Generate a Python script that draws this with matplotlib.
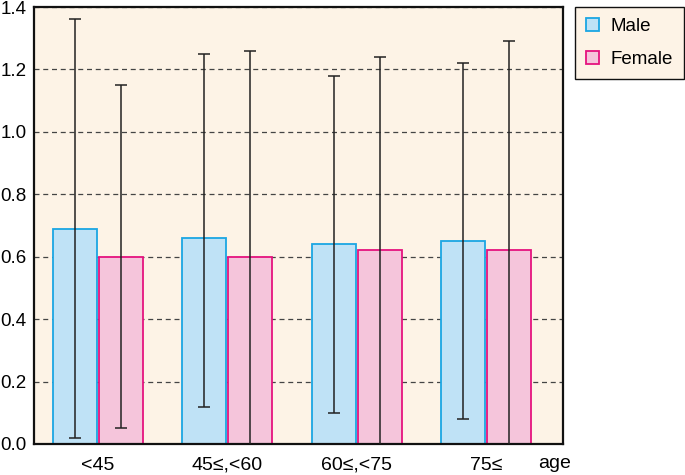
import matplotlib
matplotlib.use("Agg")
import matplotlib.pyplot as plt
import numpy as np

plt.rcParams['font.family'] = ['Liberation Sans', 'DejaVu Sans']

categories = ["<45", "45≤,<60", "60≤,<75", "75≤"]
male_mean = [0.69, 0.66, 0.64, 0.65]
male_low = [0.02, 0.12, 0.10, 0.08]
male_high = [1.36, 1.25, 1.18, 1.22]
female_mean = [0.60, 0.60, 0.62, 0.62]
female_low = [0.05, -0.06, -0.02, -0.05]
female_high = [1.15, 1.26, 1.24, 1.29]
y_ticks = [0.0, 0.2, 0.4, 0.6, 0.8, 1.0, 1.2, 1.4]

bg = "#fdf3e6"
male_fill, male_edge = "#bfe2f6", "#1ba6e3"
female_fill, female_edge = "#f5c5db", "#e5137e"
fs = 13.5

fig = plt.figure(figsize=(6.85, 4.75), dpi=100)
ax = fig.add_axes([34/685, 1-444/475, (563-34)/685, (444-7)/475])
ax.set_facecolor(bg)

x = np.arange(len(categories))
w = 0.34
off = 0.177
mm = np.array(male_mean); fm = np.array(female_mean)
ax.bar(x - off, mm, w, color=male_fill, edgecolor=male_edge, linewidth=1.3, label="Male", zorder=2)
ax.bar(x + off, fm, w, color=female_fill, edgecolor=female_edge, linewidth=1.3, label="Female", zorder=2)
ax.errorbar(x - off, mm, yerr=[mm - np.array(male_low), np.array(male_high) - mm],
            fmt='none', ecolor='#222222', elinewidth=1.1, capsize=4, capthick=1.1, zorder=3)
ax.errorbar(x + off, fm, yerr=[fm - np.array(female_low), np.array(female_high) - fm],
            fmt='none', ecolor='#222222', elinewidth=1.1, capsize=4, capthick=1.1, zorder=3)

ax.set_ylim(0, 1.4)
ax.set_xlim(-0.495, 3.595)
ax.set_yticks(y_ticks)
ax.set_yticklabels([f"{v:.1f}" for v in y_ticks], fontsize=fs)
ax.set_xticks(x)
ax.set_xticklabels(categories, fontsize=14)
ax.tick_params(axis='y', length=0, pad=5.5)
ax.tick_params(axis='x', length=0, pad=9)
ax.yaxis.grid(True, linestyle=(0, (4, 3)), color='#444444', linewidth=0.9, zorder=1)
ax.set_axisbelow(True)
for s in ax.spines.values():
    s.set_linewidth(1.6)
    s.set_color('#111111')

fig.text(555/685, 1-464/475, "age", fontsize=14, ha='center', va='center')

leg = fig.legend(loc='upper left', bbox_to_anchor=(575/685, 1-7/475), fontsize=fs,
                 frameon=True, fancybox=False, handlelength=0.7, handleheight=0.7,
                 handletextpad=0.64, borderpad=0.57, labelspacing=0.85, borderaxespad=0)
leg.get_frame().set_facecolor(bg)
leg.get_frame().set_edgecolor('#111111')
leg.get_frame().set_linewidth(1.0)
leg.get_frame().set_alpha(1)

fig.savefig("out.png", dpi=100)
